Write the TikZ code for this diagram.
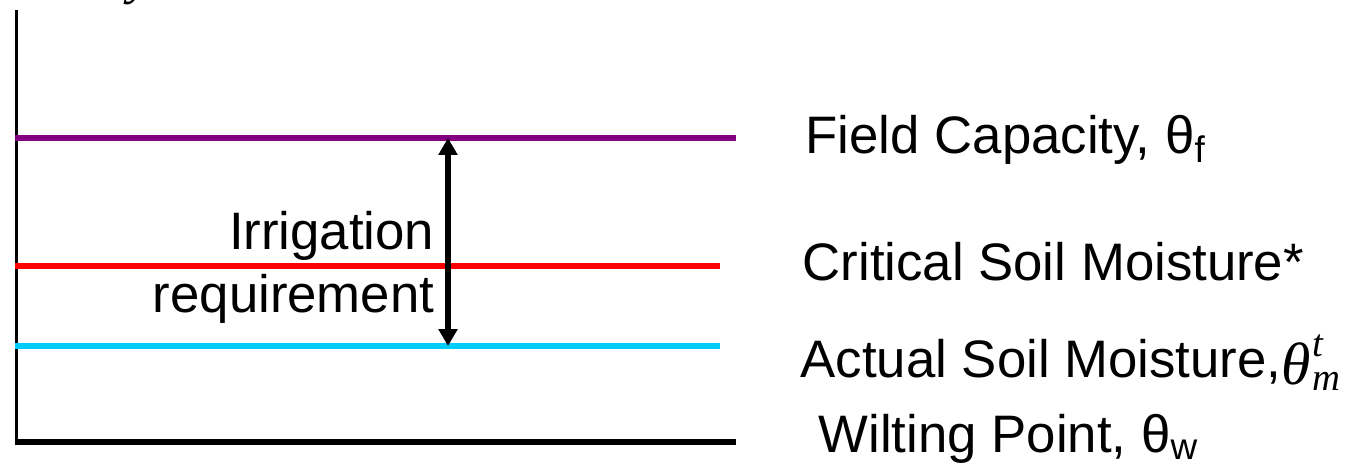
\documentclass[tikz,border=0pt]{standalone}
\usepackage{fontspec}
\setmainfont{Liberation Sans}
\newfontfamily\timesfont{Liberation Serif}
\usetikzlibrary{arrows.meta}
\definecolor{fcpurple}{RGB}{128,0,128}
\definecolor{csmred}{RGB}{255,0,0}
\definecolor{asmcyan}{RGB}{0,204,255}
\newcommand{\thetatm}{{\timesfont\itshape\raisebox{-2pt}{\fontsize{17}{18}\selectfont θ}\kern0.6pt\rlap{\raisebox{5.7pt}{\fontsize{11}{11}\selectfont t}}\raisebox{-3.7pt}{\fontsize{11}{11}\selectfont m}}}
\begin{document}
\begin{tikzpicture}[x=0.01cm,y=-0.01cm,
  level/.style={line width=1.7pt},
  lbl/.style={inner sep=0pt,anchor=base west,font=\fontsize{15}{18}\selectfont},
  irrlbl/.style={inner sep=0pt,anchor=base east,font=\fontsize{15}{18}\selectfont}]
  \useasboundingbox (0,0) rectangle (1349,466);
  % axes
  \draw[line width=0.9pt] (16.5,10) -- (16.5,445);
  \draw[line width=1.7pt] (15,442) -- (736,442);
  % moisture levels
  \draw[level,fcpurple] (15,138) -- (736,138);
  \draw[level,csmred] (15,266) -- (720,266);
  \draw[level,asmcyan] (15,346) -- (720,346);
  \coordinate (fctop) at (448,138);
  \coordinate (asmbot) at (448,346);
  \draw[line width=1.7pt,{Triangle[length=4.8pt,width=5.2pt]}-{Triangle[length=4.8pt,width=5.2pt]}] (fctop) -- (asmbot);
  % labels
  \node[lbl] (fclabel) at (805,153) {Field Capacity, θ\textsubscript{f}};
  \node[lbl] (csmlabel) at (802,280) {Critical Soil Moisture*};
  \node[lbl] (asmlabel) at (800,377) {Actual Soil Moisture,\thetatm};
  \node[lbl] (wplabel) at (818,452) {Wilting Point, θ\textsubscript{w}};
  \node[irrlbl] (irrlabel) at (435,249) {Irrigation};
  \node[irrlbl] (reqlabel) at (435,312) {requirement};
  \node[inner sep=0pt,anchor=base west,font=\timesfont\itshape\fontsize{15}{18}\selectfont] (ylabel) at (128,-7) {y};
\end{tikzpicture}
\end{document}
